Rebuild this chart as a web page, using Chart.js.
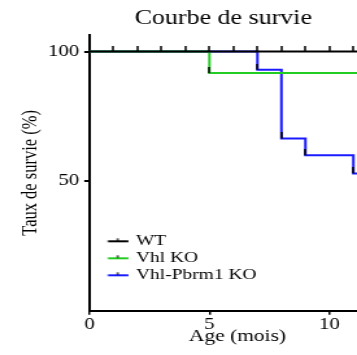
<!DOCTYPE html>
<html lang="fr">
<head>
<meta charset="UTF-8">
<title>Courbe de survie</title>
<script src="https://cdn.jsdelivr.net/npm/chart.js@4.4.1/dist/chart.umd.min.js"></script>
<style>
	html, body {
		margin: 0;
		padding: 0;
		background: #fff;
		overflow: hidden;
	}

	/* the original figure is stretched horizontally, so draw narrow and widen */
	#canvasContainer {
		width: 275px;
		height: 355px;
		transform: scaleX(1.2982);
		transform-origin: 0 0;
	}
</style>
</head>
<body>
<div id="canvasContainer">
	<canvas id="chart"></canvas>
</div>

<script>
	const seriesNames = ['WT', 'Vhl KO', 'Vhl-Pbrm1 KO'];
	const seriesColors = ['#000000', '#22cc22', '#1a1aff'];

	// age (months) and survival (%)
	const wtMonths = [0, 12];
	const wtSurvival = [100, 100];
	const vhlMonths = [0, 5, 12];
	const vhlSurvival = [100, 91.7, 91.7];
	const pbrmMonths = [0, 7, 8, 9, 11, 12];
	const pbrmSurvival = [100, 93, 66.5, 60, 53, 53];

	// censored WT animals
	const wtCensored = [1, 2, 3, 4, 5, 6, 7, 8, 9, 10, 11];

	const xTicks = [0, 5, 10];
	const yTicks = [50, 100];

	const serif = "'Liberation Serif', 'Times New Roman', serif";
	Chart.defaults.font.family = serif;
	Chart.defaults.color = '#000';

	// small upward tick used for censor marks
	function tickImage() {
		const c = document.createElement('canvas');
		c.width = 2;
		c.height = 12;
		const g = c.getContext('2d');
		g.fillStyle = '#000';
		g.fillRect(0.25, 0, 1.5, 6);
		return c;
	}

	// legend sample: coloured line with a black tick in the middle
	function legendImage(color) {
		const c = document.createElement('canvas');
		c.width = 29;
		c.height = 10;
		const g = c.getContext('2d');
		g.fillStyle = color;
		g.fillRect(13.5, 4, 15.4, 2);
		g.fillStyle = '#000';
		g.fillRect(20.5, 2, 1.2, 2.5);
		return c;
	}

	function points(months, survival) {
		return months.map((m, i) => ({ x: m, y: survival[i] }));
	}

	function drops(months, survival) {
		let out = [];
		for (let i = 1; i < months.length; i++) {
			if (survival[i] < survival[i - 1]) out.push({ x: months[i], y: survival[i] });
		}
		return out;
	}

	const curves = [points(wtMonths, wtSurvival), points(vhlMonths, vhlSurvival), points(pbrmMonths, pbrmSurvival)];

	let datasets = [];
	for (let i = 0; i < seriesNames.length; i++) {
		datasets.push({
			label: seriesNames[i],
			data: curves[i],
			borderColor: seriesColors[i],
			backgroundColor: seriesColors[i],
			borderWidth: 2,
			stepped: true,
			fill: false,
			pointRadius: 0,
			pointStyle: legendImage(seriesColors[i]),
			borderCapStyle: 'butt',
			borderJoinStyle: 'miter'
		});
	}

	const marks = wtCensored.map(m => ({ x: m, y: 100 }))
		.concat(drops(vhlMonths, vhlSurvival), drops(pbrmMonths, pbrmSurvival));

	datasets.push({
		label: 'marks',
		data: marks,
		showLine: false,
		pointRadius: 3,
		pointStyle: tickImage(),
		order: -1
	});

	const xTitle = {
		id: 'xTitle',
		afterDraw(chart) {
			const { ctx, chartArea } = chart;
			ctx.save();
			ctx.font = '16.5px ' + serif;
			ctx.fillStyle = '#000';
			ctx.textAlign = 'center';
			ctx.textBaseline = 'alphabetic';
			ctx.fillText('Age (mois)', (chartArea.left + chartArea.right) / 2 + 11, chartArea.bottom + 30.5);
			ctx.restore();
		}
	};

	// the legend sits inside the plot, a bit above the x axis
	const legendShift = {
		id: 'legendShift',
		afterLayout(chart) {
			const l = chart.legend;
			l.top += 9;
			l.bottom += 9;
		}
	};

	const ctx = document.getElementById('chart').getContext('2d');

	new Chart(ctx, {
		type: 'line',
		data: { datasets },
		plugins: [xTitle, legendShift],
		options: {
			responsive: true,
			maintainAspectRatio: false,
			animation: false,
			layout: {
				autoPadding: false,
				padding: { left: 0, right: 0, top: 0, bottom: 21 }
			},
			plugins: {
				title: {
					display: true,
					text: 'Courbe de survie',
					fullSize: false,
					color: '#000',
					font: { size: 20, weight: 'normal' },
					padding: { top: 7, bottom: 4 }
				},
				legend: {
					position: 'chartArea',
					align: 'end',
					labels: {
						usePointStyle: true,
						pointStyleWidth: 26.3,
						padding: 2,
						color: '#000',
						font: { size: 15 },
						filter: item => item.datasetIndex < 3
					}
				},
				tooltip: { enabled: false }
			},
			scales: {
				x: {
					type: 'linear',
					min: 0,
					max: 11.15,
					border: { color: '#000', width: 2 },
					grid: { drawOnChartArea: false, drawTicks: true, tickLength: 4, color: '#000', lineWidth: 1.5 },
					ticks: { font: { size: 16 }, padding: 0, color: '#000', maxRotation: 0, autoSkip: false },
					afterBuildTicks: s => { s.ticks = xTicks.map(v => ({ value: v })); }
				},
				y: {
					min: 0,
					max: 106.4,
					border: { color: '#000', width: 2 },
					grid: { drawOnChartArea: false, drawTicks: true, tickLength: 4, color: '#000', lineWidth: 2 },
					ticks: { font: { size: 16 }, padding: 4, color: '#000' },
					title: {
						display: true,
						text: 'Taux de survie (%)',
						color: '#000',
						font: { size: 16.5 },
						padding: { top: 14, bottom: 0 }
					},
					afterBuildTicks: s => { s.ticks = yTicks.map(v => ({ value: v })); },
					afterFit: s => { s.width = 68.9; }
				}
			}
		}
	});
</script>
</body>
</html>
